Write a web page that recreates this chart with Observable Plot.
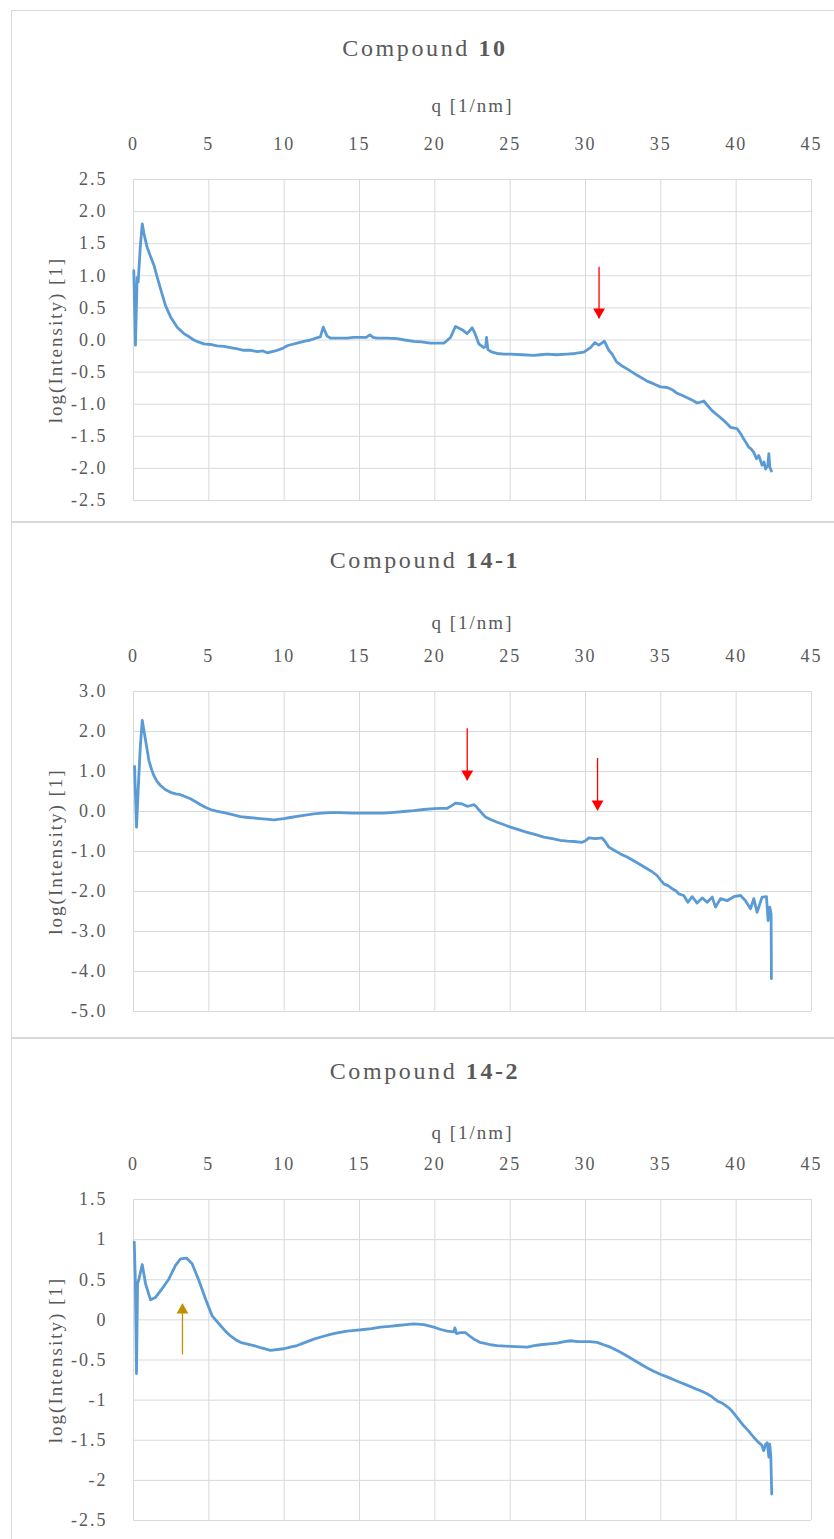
<!DOCTYPE html>
<html><head><meta charset="utf-8">
<script src="https://cdn.jsdelivr.net/npm/d3@7"></script>
<script src="https://cdn.jsdelivr.net/npm/@observablehq/plot@0.6"></script>
<style>
html,body{margin:0;padding:0;}
body{width:834px;height:1539px;overflow:hidden;background:#fff;position:relative;font-family:"Liberation Serif",serif;}
.box{position:absolute;left:11px;width:900px;border:1px solid #d9d9d9;box-sizing:border-box;}
.title{position:absolute;left:0;width:850px;text-align:center;font-size:24px;line-height:24px;color:#595959;letter-spacing:2.6px;}
.chart{position:absolute;left:0;}
</style></head><body>
<script>
// ---------- data ----------
const xTicks = [0, 5, 10, 15, 20, 25, 30, 35, 40, 45];

// Compound 10
const q10 = [0.02,0.13,0.24,0.31,0.45,0.58,0.7,0.9,1.1,1.35,1.55,1.79,2.12,2.46,2.9,3.34,3.7,4.0,4.3,4.67,5.1,5.55,6.0,6.44,6.9,7.32,7.8,8.2,8.6,8.87,9.2,9.54,9.9,10.2,10.5,10.86,11.3,11.75,12.1,12.4,12.59,12.85,13.07,13.6,14.18,14.6,15.07,15.45,15.69,15.9,16.17,16.8,17.5,18.0,18.6,19.1,19.7,20.2,20.6,21.04,21.37,21.81,22.14,22.48,22.63,22.92,23.25,23.38,23.43,23.52,23.8,24.14,24.6,25.02,25.8,26.57,27.0,27.45,28.1,28.78,29.3,29.89,30.33,30.62,30.88,31.26,31.55,31.77,32.06,32.4,32.76,33.1,33.43,33.8,34.09,34.5,34.98,35.42,35.8,36.08,36.4,36.75,37.1,37.41,37.6,37.85,38.1,38.4,38.7,38.96,39.3,39.62,40.06,40.3,40.5,40.84,41.0,41.17,41.35,41.5,41.72,41.85,41.95,42.1,42.17,42.23,42.34];
const v10 = [1.08,-0.08,0.97,0.9,1.45,1.81,1.65,1.45,1.32,1.17,1.0,0.8,0.54,0.36,0.2,0.1,0.05,0.0,-0.03,-0.06,-0.07,-0.09,-0.1,-0.12,-0.14,-0.16,-0.16,-0.18,-0.17,-0.2,-0.18,-0.16,-0.13,-0.09,-0.07,-0.05,-0.02,0.0,0.03,0.05,0.2,0.06,0.03,0.03,0.03,0.04,0.04,0.04,0.08,0.04,0.03,0.03,0.02,0.0,-0.02,-0.03,-0.05,-0.05,-0.05,0.04,0.21,0.16,0.1,0.19,0.12,-0.06,-0.12,-0.1,0.04,-0.15,-0.19,-0.21,-0.22,-0.22,-0.23,-0.24,-0.23,-0.22,-0.23,-0.22,-0.21,-0.19,-0.12,-0.04,-0.08,-0.02,-0.16,-0.22,-0.34,-0.4,-0.45,-0.5,-0.55,-0.6,-0.64,-0.68,-0.73,-0.74,-0.78,-0.83,-0.86,-0.9,-0.94,-0.98,-0.97,-0.95,-1.02,-1.1,-1.16,-1.21,-1.28,-1.36,-1.38,-1.46,-1.54,-1.67,-1.7,-1.75,-1.85,-1.8,-1.95,-1.9,-2.01,-1.95,-1.77,-1.98,-2.04];
const yTicks10 = [2.5, 2, 1.5, 1, 0.5, 0, -0.5, -1, -1.5, -2, -2.5];
const arrows10 = [{q: 30.9, from: 1.14, to: 0.34}];

// Compound 14-1
const q141 = [0.07,0.2,0.35,0.45,0.58,0.8,1.02,1.2,1.35,1.55,1.79,2.1,2.46,2.8,3.12,3.45,3.78,4.1,4.45,4.8,5.11,5.5,6.0,6.5,7.1,7.6,8.2,8.8,9.31,9.98,10.4,10.86,11.4,11.97,12.5,13.07,13.7,14.5,15.29,16.0,16.6,17.3,17.94,18.6,19.27,19.93,20.4,20.82,21.1,21.37,21.81,22.15,22.4,22.59,22.75,22.95,23.36,23.7,24.14,24.6,25.02,25.6,26.13,26.7,27.23,27.8,28.34,28.8,29.22,29.78,30.0,30.22,30.66,31.1,31.3,31.55,31.9,32.32,32.76,33.2,33.65,34.09,34.4,34.75,35.0,35.2,35.5,35.75,36.0,36.19,36.52,36.79,37.08,37.41,37.74,38.08,38.41,38.63,38.96,39.4,39.84,40.29,40.62,40.95,41.17,41.39,41.72,42.01,42.12,42.23,42.32,42.34];
const v141 = [1.13,-0.39,0.86,1.6,2.28,1.78,1.28,1.05,0.9,0.76,0.65,0.55,0.48,0.44,0.42,0.37,0.32,0.25,0.17,0.1,0.05,0.01,-0.03,-0.07,-0.13,-0.15,-0.17,-0.19,-0.21,-0.18,-0.15,-0.12,-0.09,-0.06,-0.04,-0.03,-0.03,-0.04,-0.04,-0.04,-0.04,-0.02,0.0,0.02,0.05,0.07,0.08,0.08,0.14,0.21,0.19,0.13,0.15,0.17,0.12,0.03,-0.14,-0.2,-0.27,-0.33,-0.39,-0.46,-0.52,-0.58,-0.64,-0.68,-0.72,-0.74,-0.75,-0.77,-0.73,-0.66,-0.68,-0.66,-0.75,-0.89,-0.97,-1.06,-1.14,-1.23,-1.33,-1.43,-1.5,-1.6,-1.72,-1.81,-1.86,-1.93,-1.98,-2.06,-2.1,-2.27,-2.13,-2.29,-2.16,-2.27,-2.14,-2.39,-2.18,-2.23,-2.13,-2.1,-2.23,-2.43,-2.18,-2.52,-2.14,-2.13,-2.73,-2.39,-2.56,-4.18];
const yTicks141 = [3, 2, 1, 0, -1, -2, -3, -4, -5];
const arrows141 = [{q: 22.15, from: 2.08, to: 0.78}, {q: 30.8, from: 1.34, to: 0.03}];

// Compound 14-2
const q142 = [0.05,0.12,0.2,0.27,0.35,0.58,0.8,1.13,1.46,1.9,2.35,2.79,3.12,3.52,3.89,4.34,4.78,5.22,5.77,6.1,6.44,6.8,7.1,7.5,7.99,8.5,9.09,9.98,10.4,10.86,11.4,11.97,12.5,13.07,13.6,14.18,14.7,15.29,15.8,16.39,17.0,17.5,18.1,18.6,19.27,19.93,20.4,20.82,21.26,21.33,21.44,21.7,22.04,22.37,22.59,22.99,23.25,23.7,24.14,25.02,26.13,26.6,27.01,27.6,28.12,28.6,29.0,29.5,29.89,30.3,30.77,31.2,31.66,32.2,32.76,33.2,33.65,34.1,34.53,35.0,35.42,35.9,36.3,36.7,37.19,37.6,38.07,38.4,38.74,39.1,39.4,39.7,39.95,40.2,40.5,40.8,41.06,41.3,41.5,41.7,41.83,41.95,42.06,42.17,42.23,42.3,42.36];
const v142 = [0.97,0.5,-0.67,0.45,0.5,0.69,0.45,0.25,0.28,0.39,0.51,0.68,0.76,0.77,0.7,0.49,0.26,0.05,-0.07,-0.14,-0.2,-0.25,-0.28,-0.3,-0.32,-0.35,-0.38,-0.36,-0.34,-0.32,-0.28,-0.24,-0.21,-0.18,-0.16,-0.14,-0.13,-0.12,-0.11,-0.09,-0.08,-0.07,-0.06,-0.05,-0.06,-0.09,-0.12,-0.14,-0.15,-0.1,-0.17,-0.16,-0.16,-0.21,-0.24,-0.28,-0.29,-0.31,-0.32,-0.33,-0.34,-0.32,-0.31,-0.3,-0.29,-0.27,-0.26,-0.27,-0.27,-0.27,-0.28,-0.31,-0.34,-0.39,-0.45,-0.5,-0.55,-0.6,-0.64,-0.68,-0.71,-0.75,-0.78,-0.81,-0.85,-0.88,-0.92,-0.96,-1.01,-1.04,-1.08,-1.13,-1.19,-1.25,-1.32,-1.38,-1.44,-1.49,-1.53,-1.56,-1.63,-1.55,-1.53,-1.71,-1.55,-1.7,-2.17];
const yTicks142 = [1.5, 1, 0.5, 0, -0.5, -1, -1.5, -2, -2.5];
const arrows142 = [{q: 3.25, from: -0.43, to: 0.2}];

// ---------- layout ----------
const panels = [
  {title: "10", boxTop: 10, boxH: 512, titleTop: 36, plotTop: 179.3, plotH: 321, qOff: 68,
   q: q10, v: v10, yDomain: [-2.5, 2.5], yTicks: yTicks10, fmt: d => d.toFixed(1),
   arrows: arrows10, arrowColor: "#ff0000", down: true},
  {title: "14-1", boxTop: 522, boxH: 516, titleTop: 548, plotTop: 691, plotH: 320, qOff: 63,
   q: q141, v: v141, yDomain: [-5, 3], yTicks: yTicks141, fmt: d => d.toFixed(1),
   arrows: arrows141, arrowColor: "#ff0000", down: true},
  {title: "14-2", boxTop: 1038, boxH: 600, titleTop: 1059, plotTop: 1199.3, plotH: 321, qOff: 61,
   q: q142, v: v142, yDomain: [-2.5, 1.5], yTicks: yTicks142, fmt: d => String(d),
   arrows: arrows142, arrowColor: "#c09000", down: false}
];

const MT = 80, MB = 10;
for (const p of panels) {
  const box = document.createElement("div");
  box.className = "box";
  box.style.top = p.boxTop + "px";
  box.style.height = p.boxH + "px";
  document.body.appendChild(box);

  const t = document.createElement("div");
  t.className = "title";
  t.style.top = p.titleTop + "px";
  t.innerHTML = "Compound <b>" + p.title + "</b>";
  document.body.appendChild(t);

  const data = p.q.map((q, i) => ({q, v: p.v[i]}));
  const chart = Plot.plot({
    width: 834,
    height: MT + p.plotH + MB,
    marginTop: MT, marginBottom: MB, marginLeft: 133, marginRight: 23,
    x: {domain: [0, 45]},
    y: {domain: p.yDomain},
    style: {background: "none", fontFamily: "Liberation Serif, serif", fontSize: "18px", color: "#595959", letterSpacing: "2px", overflow: "visible"},
    marks: [
      Plot.gridX(xTicks, {stroke: "#d9d9d9", strokeOpacity: 1, strokeWidth: 1}),
      Plot.gridY(p.yTicks, {stroke: "#d9d9d9", strokeOpacity: 1, strokeWidth: 1}),
      Plot.axisX(xTicks, {anchor: "top", tickSize: 0, tickPadding: 30, label: null, fill: "#595959"}),
      Plot.axisY(p.yTicks, {anchor: "left", tickSize: 0, tickPadding: 26, label: null, tickFormat: p.fmt, fill: "#595959"}),
      Plot.text(["q [1/nm]"], {text: d => d, frameAnchor: "top", textAnchor: "middle", dy: -p.qOff, lineAnchor: "bottom", fontSize: 19, fill: "#595959"}),
      Plot.text(["log(Intensity) [1]"], {text: d => d, frameAnchor: "left", textAnchor: "middle", lineAnchor: "middle", dx: -78, rotate: -90, fontSize: 19, fill: "#595959"}),
      Plot.line(data, {x: "q", y: "v", stroke: "#5b9bd5", strokeWidth: 2.8, strokeLinejoin: "round"}),
      Plot.link(p.arrows, {x1: "q", x2: "q", y1: "from", y2: "to", stroke: p.arrowColor, strokeWidth: 1.3}),
      Plot.dot(p.arrows, {x: "q", y: "to", symbol: "triangle", r: 4.4, fill: p.arrowColor, stroke: "none",
        rotate: p.down ? 180 : 0, dy: p.down ? -6.3 : 6.3})
    ]
  });
  chart.classList.add("chart");
  chart.style.top = (p.plotTop - MT) + "px";
  chart.style.position = "absolute";
  chart.style.left = "0px";
  document.body.appendChild(chart);
}
</script>
</body></html>
